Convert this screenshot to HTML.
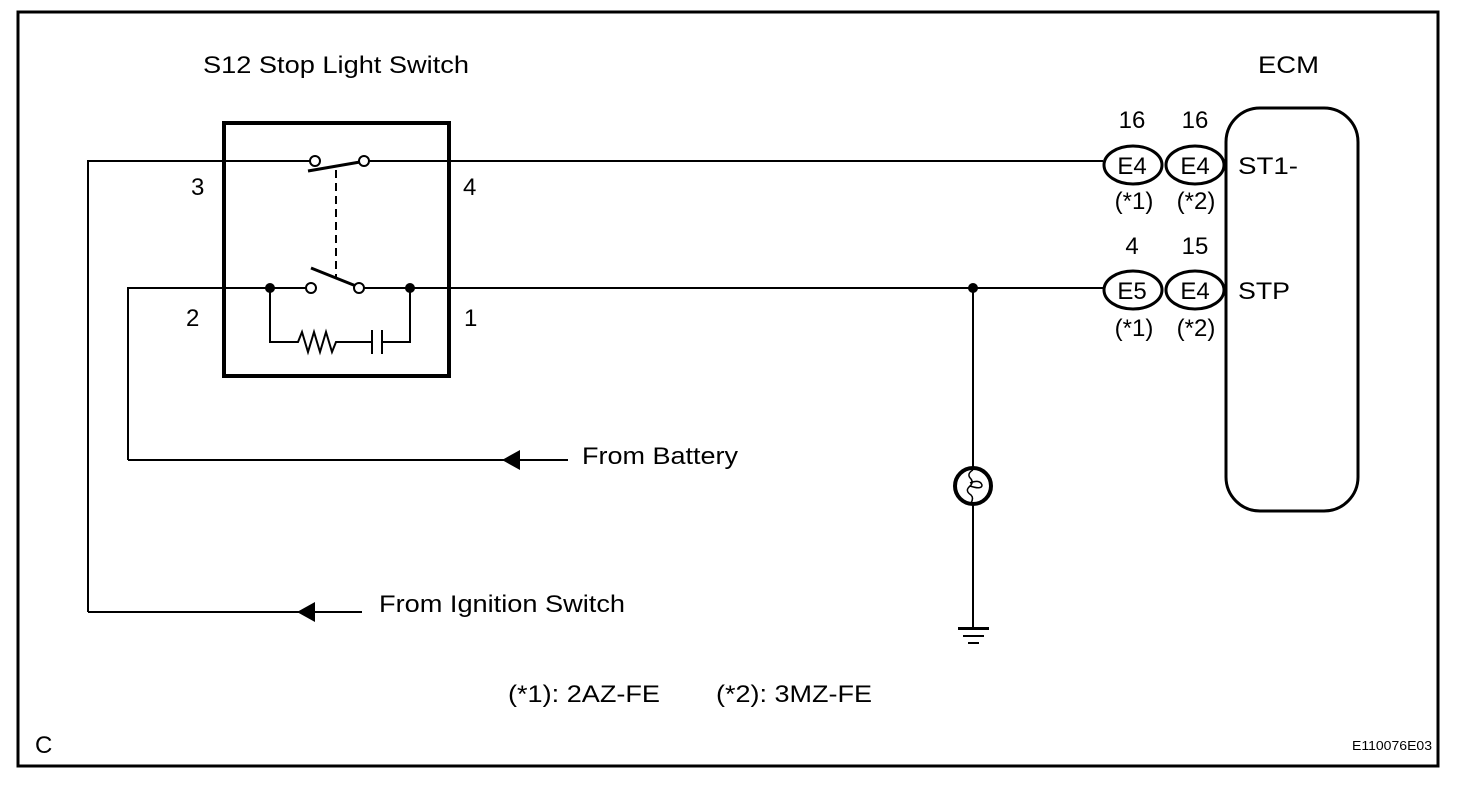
<!DOCTYPE html>
<html><head><meta charset="utf-8"><style>
html,body{margin:0;padding:0;background:#fff;}
svg{display:block;}
text{font-family:"Liberation Sans",Arial,sans-serif;font-size:24px;fill:#000;}
</style></head><body>
<svg width="1472" height="790" viewBox="0 0 1472 790">
<rect x="18" y="12" width="1420" height="754" fill="none" stroke="#000" stroke-width="3"/>
<text x="203" y="73" textLength="266" lengthAdjust="spacingAndGlyphs">S12 Stop Light Switch</text>
<text x="1258" y="73" textLength="61" lengthAdjust="spacingAndGlyphs">ECM</text>
<rect x="224" y="123" width="225" height="253" fill="none" stroke="#000" stroke-width="4"/>
<g stroke="#000" stroke-width="2" fill="none">
<polyline points="88,612 88,161 311,161"/>
<line x1="368" y1="161" x2="1103" y2="161"/>
<polyline points="128,460 128,288 307,288"/>
<line x1="363" y1="288" x2="1103" y2="288"/>
<line x1="128" y1="460" x2="568" y2="460"/>
<line x1="88" y1="612" x2="362" y2="612"/>
<polyline points="270,288 270,342 298,342 302,332 308,352 314,332 320,352 326,332 332,352 336,342 372,342"/>
<line x1="372" y1="330" x2="372" y2="354"/>
<line x1="382" y1="330" x2="382" y2="354"/>
<polyline points="382,342 410,342 410,288"/>
<line x1="336" y1="170" x2="336" y2="278" stroke-dasharray="8,5"/>
<line x1="973" y1="288" x2="973" y2="628"/>
</g>
<g stroke="#000" stroke-width="3" fill="#fff">
<line x1="308" y1="171" x2="360" y2="162"/>
<line x1="311" y1="268" x2="356" y2="286"/>
<circle cx="315" cy="161" r="5" stroke-width="2"/>
<circle cx="364" cy="161" r="5" stroke-width="2"/>
<circle cx="311" cy="288" r="5" stroke-width="2"/>
<circle cx="359" cy="288" r="5" stroke-width="2"/>
<circle cx="973" cy="486" r="18" stroke-width="4"/>
</g>
<path d="M973,470 q-7,4 -2,9 q3,4 -2,8 q-4,4 2,8 q3,3 0,8 M970,483 q10,-4 12,2 q0,5 -12,1" stroke="#000" stroke-width="1.5" fill="none"/>
<g fill="#000">
<circle cx="270" cy="288" r="5"/>
<circle cx="410" cy="288" r="5"/>
<circle cx="973" cy="288" r="5"/>
<polygon points="502,460 520,450 520,470"/>
<polygon points="297,612 315,602 315,622"/>
<rect x="958" y="627" width="31" height="3"/>
<rect x="963" y="635" width="21" height="2"/>
<rect x="968" y="642" width="11" height="2"/>
</g>
<text x="191" y="195">3</text>
<text x="463" y="195">4</text>
<text x="186" y="326">2</text>
<text x="464" y="326">1</text>
<g stroke="#000" stroke-width="3" fill="#fff">
<ellipse cx="1133" cy="165" rx="29" ry="19"/>
<ellipse cx="1195" cy="165" rx="29" ry="19"/>
<ellipse cx="1133" cy="290" rx="29" ry="19"/>
<ellipse cx="1195" cy="290" rx="29" ry="19"/>
<rect x="1226" y="108" width="132" height="403" rx="34" ry="34"/>
</g>
<g text-anchor="middle">
<text x="1132" y="128">16</text><text x="1195" y="128">16</text>
<text x="1132" y="174">E4</text><text x="1195" y="174">E4</text>
<text x="1134" y="209">(*1)</text><text x="1196" y="209">(*2)</text>
<text x="1132" y="254">4</text><text x="1195" y="254">15</text>
<text x="1132" y="299">E5</text><text x="1195" y="299">E4</text>
<text x="1134" y="336">(*1)</text><text x="1196" y="336">(*2)</text>
</g>
<text x="1238" y="174" textLength="60" lengthAdjust="spacingAndGlyphs">ST1-</text>
<text x="1238" y="299" textLength="52" lengthAdjust="spacingAndGlyphs">STP</text>
<text x="582" y="464" textLength="156" lengthAdjust="spacingAndGlyphs">From Battery</text>
<text x="379" y="612" textLength="246" lengthAdjust="spacingAndGlyphs">From Ignition Switch</text>
<text x="508" y="702" textLength="152" lengthAdjust="spacingAndGlyphs">(*1): 2AZ-FE</text>
<text x="716" y="702" textLength="156" lengthAdjust="spacingAndGlyphs">(*2): 3MZ-FE</text>
<text x="35" y="753">C</text>
<text x="1352" y="750" style="font-size:13px" textLength="80" lengthAdjust="spacingAndGlyphs">E110076E03</text>
</svg>
</body></html>
